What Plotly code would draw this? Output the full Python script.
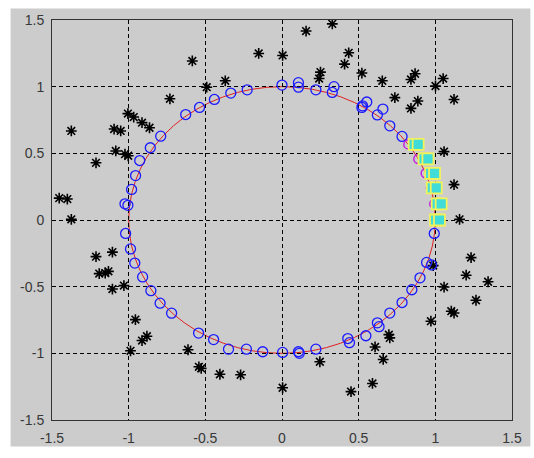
import plotly.graph_objects as go

# Noisy observations (black stars)
star_x = [-0.152, -0.585, -0.370, -0.491, -0.731, -1.005, -0.967, -0.913, -0.864,
          -1.095, -1.052, -1.374, -1.084, -1.024, -1.003, -1.213, -1.453, -1.400, -1.374,
          0.328, 0.157, 0.004, 0.435, 0.408, 0.251, 0.242, 0.521, 0.654, 0.868, 0.841,
          1.051, 1.001, 0.736, 0.886, 0.841, 1.122, 1.057, 1.122, 1.158,
          -1.213, -1.106, -1.192, -1.153, -1.132, -1.106, -1.031, -0.956, -0.913, -0.881,
          -0.988, -0.613, -0.542, -0.527, -0.405, -0.270,
          1.233, 1.201, 1.344, 0.986, 1.057, 1.265, 1.104, 1.122, 0.971, 0.697, 0.703,
          0.607, 0.660, 0.247, 0.004, 0.450, 0.590]
star_y = [1.249, 1.193, 1.044, 0.996, 0.909, 0.798, 0.772, 0.730, 0.692,
          0.682, 0.668, 0.668, 0.518, 0.494, 0.482, 0.429, 0.164, 0.157, 0.005,
          1.471, 1.417, 1.234, 1.254, 1.169, 1.109, 1.061, 1.102, 1.044, 1.097, 1.054,
          1.061, 1.005, 0.918, 0.892, 0.837, 0.904, 0.513, 0.265, 0.005,
          -0.275, -0.241, -0.402, -0.398, -0.385, -0.518, -0.492, -0.747, -0.904, -0.872,
          -0.981, -0.973, -1.101, -1.113, -1.157, -1.161,
          -0.282, -0.414, -0.463, -0.342, -0.503, -0.602, -0.684, -0.698, -0.759, -0.860, -0.884,
          -0.952, -1.046, -1.063, -1.258, -1.287, -1.226]

# Estimated points on the unit circle (blue circles)
est_x = [-1.024, -1.005, -0.981, -0.955, -0.928, -0.859, -0.791, -0.628, -0.538, -0.441,
         -0.334, -0.227,
         0.000, 0.107, 0.107, 0.221, 0.339, 0.328, 0.525, 0.553, 0.521, 0.658, 0.622,
         0.703, 0.783,
         -1.020, -0.988, -0.960, -0.909, -0.855, -0.795, -0.720, -0.544, -0.446, -0.349,
         -0.232, -0.126,
         0.004, 0.107, 0.113, 0.221, 0.429, 0.440, 0.547, 0.622, 0.633, 0.703, 0.783,
         0.847, 0.900, 0.943, 0.976, 0.993]
est_y = [0.121, 0.110, 0.229, 0.333, 0.446, 0.542, 0.629, 0.791, 0.844, 0.904,
         0.952, 0.976,
         1.012, 1.030, 0.996, 0.976, 1.000, 0.957, 0.856, 0.885, 0.844, 0.832, 0.788,
         0.706, 0.627,
         -0.101, -0.217, -0.323, -0.427, -0.530, -0.624, -0.699, -0.848, -0.897, -0.969,
         -0.969, -0.988,
         -0.993, -0.988, -1.000, -0.969, -0.889, -0.920, -0.868, -0.771, -0.800, -0.698,
         -0.619, -0.523, -0.434, -0.318, -0.337, -0.101]

# Highlighted cluster (cyan blobs with yellow edge) and their circle anchors (magenta)
hl_x = [0.862, 0.888, 0.926, 0.952, 0.969, 0.995, 0.980, 1.006, 1.012, 1.038, 1.001, 1.027]
hl_y = [0.567, 0.567, 0.458, 0.458, 0.350, 0.350, 0.241, 0.241, 0.121, 0.121, 0.000, 0.000]
anchor_x = [0.824, 0.889, 0.937, 0.971, 0.993, 1.000]
anchor_y = [0.567, 0.458, 0.350, 0.241, 0.121, 0.000]

tick_vals = [-1.5, -1, -0.5, 0, 0.5, 1, 1.5]
tick_text = ["-1.5", "-1", "-0.5", "0", "0.5", "1", "1.5"]

fig = go.Figure()

fig.add_trace(go.Scatter(
    x=star_x, y=star_y, mode="markers",
    marker=dict(symbol="asterisk-open", size=9, color="black",
                line=dict(color="black", width=1.6)),
    hoverinfo="skip"))

fig.add_trace(go.Scatter(
    x=est_x, y=est_y, mode="markers",
    marker=dict(symbol="circle-open", size=10, color="#1a1aff",
                line=dict(color="#1a1aff", width=1.3)),
    hoverinfo="skip"))

fig.add_trace(go.Scatter(
    x=anchor_x, y=anchor_y, mode="markers",
    marker=dict(symbol="circle-open", size=9, color="#c020e0",
                line=dict(color="#c020e0", width=1.5)),
    hoverinfo="skip"))

fig.add_trace(go.Scatter(
    x=hl_x, y=hl_y, mode="markers",
    marker=dict(symbol="square", size=11, color="#40dcd8",
                line=dict(color="#f2f25a", width=1.8)),
    hoverinfo="skip"))

# Unit circle
fig.add_shape(type="circle", xref="x", yref="y", x0=-1, y0=-1, x1=1, y1=1,
              line=dict(color="#e02020", width=1), layer="below")

# Grey figure panel behind the axes
fig.add_shape(type="rect", xref="paper", yref="paper",
              x0=-0.09, x1=1.04, y0=-0.066, y1=1.029,
              fillcolor="#cccccc", line=dict(width=0), layer="below")

axis_common = dict(
    range=[-1.5, 1.5], tickvals=tick_vals, ticktext=tick_text,
    showgrid=True, gridcolor="black", gridwidth=1, griddash="4px,3px",
    zeroline=False, showline=True, linecolor="#333333", linewidth=1, mirror=True,
    ticks="", tickfont=dict(family="Arial, Liberation Sans", size=14, color="#383838"),
    fixedrange=True,
)

fig.update_xaxes(**axis_common, ticklabelstandoff=5)
fig.update_yaxes(**axis_common, ticklabelstandoff=4)

fig.update_layout(
    width=534, height=458,
    margin=dict(l=52, r=15, t=15, b=29),
    paper_bgcolor="white", plot_bgcolor="white",
    showlegend=False,
)

fig.write_html("out.html")
